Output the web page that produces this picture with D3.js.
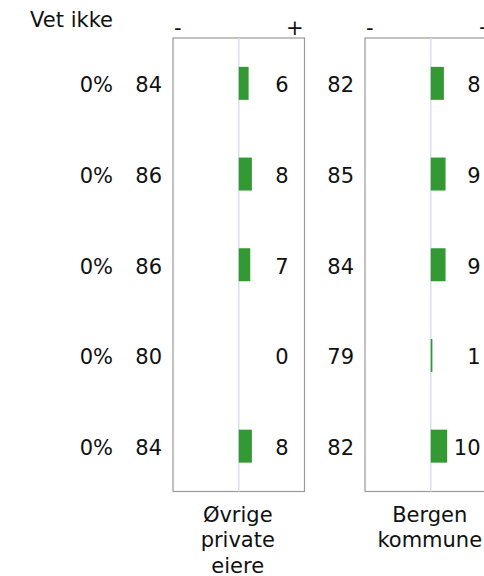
<!DOCTYPE html>
<html>
<head>
<meta charset="utf-8">
<script src="https://cdn.jsdelivr.net/npm/d3@7"></script>
<style>
	body { margin: 0; background: #fff; }
	text { font-family: Verdana, "DejaVu Sans", sans-serif; font-size: 21px; fill: #111; }
</style>
</head>
<body>
<svg id="chart"></svg>
<script>
// rader (5 spørsmål, tekst ikke synlig i utsnittet)
const rows = [0, 1, 2, 3, 4];
const vetIkke = [0, 0, 0, 0, 0];

// grupper
const groups = [["Øvrige", "private", "eiere"], ["Bergen", "kommune"]];
const leftVals = [
	[84, 86, 86, 80, 84],
	[82, 85, 84, 79, 82],
];
const rightVals = [
	[6, 8, 7, 0, 8],
	[8, 9, 9, 1, 10],
];

const width = 484, height = 576;
const svg = d3.select("#chart").attr("width", width).attr("height", height);

const boxTop = 38, boxBottom = 491.5;
const panelW = 131.5;
const panelStep = 192;
const firstPanel = 173;

const y = d3.scaleBand().domain(rows).range([boxTop, boxBottom]);
const barH = 33;

// skala for stolper, midt i panelet
const x = d3.scaleLinear().domain([-40, 40]).range([0, panelW]);

// "Vet ikke" kolonne
svg.append("text")
	.attr("x", 113)
	.attr("y", 27)
	.attr("text-anchor", "end")
	.text("Vet ikke");

svg.append("g")
	.selectAll("text")
	.data(vetIkke)
	.join("text")
	.attr("x", 113)
	.attr("y", (d, i) => y(rows[i]) + y.bandwidth() / 2 + 9)
	.attr("text-anchor", "end")
	.text((d) => d + "%");

groups.forEach((label, gi) => {
	const g = svg.append("g")
		.attr("transform", `translate(${firstPanel + gi * panelStep},0)`);

	// ramme
	g.append("rect")
		.attr("x", 0)
		.attr("y", boxTop)
		.attr("width", panelW)
		.attr("height", boxBottom - boxTop)
		.attr("fill", "none")
		.attr("stroke", "#999")
		.attr("stroke-width", 1.2);

	// nullinje
	g.append("line")
		.attr("x1", x(0))
		.attr("x2", x(0))
		.attr("y1", boxTop)
		.attr("y2", boxBottom)
		.attr("stroke", "#dcdcf4")
		.attr("stroke-width", 1.5);

	// - og +
	g.append("text").attr("x", 1).attr("y", 35).text("-");
	g.append("text").attr("x", panelW - 1).attr("y", 35)
		.attr("text-anchor", "end").text("+");

	// stolper
	g.append("g")
		.selectAll("rect")
		.data(rightVals[gi])
		.join("rect")
		.attr("x", x(0))
		.attr("y", (d, i) => y(rows[i]) + y.bandwidth() / 2 - barH / 2)
		.attr("width", (d) => x(d) - x(0))
		.attr("height", barH)
		.attr("fill", "#339933");

	// verdier venstre
	g.append("g")
		.selectAll("text")
		.data(leftVals[gi])
		.join("text")
		.attr("x", -11)
		.attr("y", (d, i) => y(rows[i]) + y.bandwidth() / 2 + 9)
		.attr("text-anchor", "end")
		.text((d) => d);

	// verdier høyre
	g.append("g")
		.selectAll("text")
		.data(rightVals[gi])
		.join("text")
		.attr("x", panelW - 16)
		.attr("y", (d, i) => y(rows[i]) + y.bandwidth() / 2 + 9)
		.attr("text-anchor", "end")
		.text((d) => d);

	// gruppenavn
	g.append("g")
		.selectAll("text")
		.data(label)
		.join("text")
		.attr("x", x(0) - 1)
		.attr("y", (d, i) => 521.5 + i * 25.5)
		.attr("text-anchor", "middle")
		.text((d) => d);
});
</script>
</body>
</html>
